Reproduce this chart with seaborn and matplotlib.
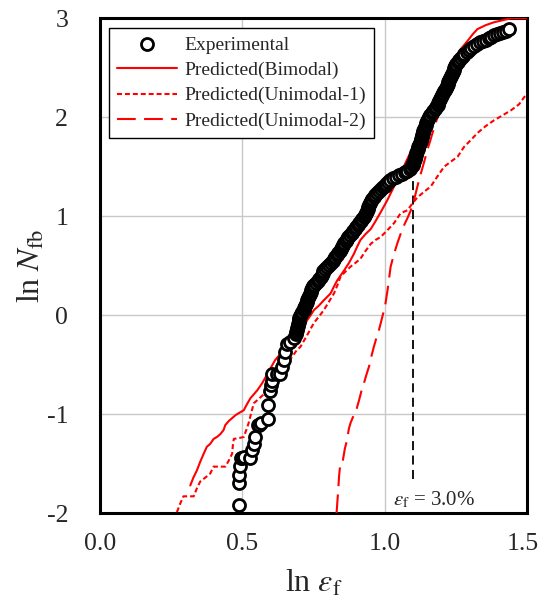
import numpy as np
import pandas as pd
import matplotlib
matplotlib.use('Agg')
import matplotlib.pyplot as plt
import matplotlib.transforms as mtransforms
import seaborn as sns

# Experimental points (ln eps_f, ln N_fb)
exp_x = [0.487, 0.487, 0.489, 0.493, 0.496, 0.500, 0.507, 0.528, 0.534, 0.540,
         0.546, 0.554, 0.558, 0.566, 0.589, 0.589, 0.596, 0.599, 0.605, 0.605,
         0.620, 0.634, 0.640, 0.645, 0.651, 0.657, 0.669, 0.680, 0.687,
         0.689, 0.691, 0.693, 0.695, 0.697, 0.698, 0.699, 0.700, 0.702, 0.705,
         0.710, 0.715, 0.718, 0.721, 0.724, 0.726, 0.728, 0.731, 0.735, 0.738,
         0.740, 0.742, 0.744, 0.747, 0.752, 0.759, 0.766, 0.771, 0.775, 0.779,
         0.782, 0.785, 0.789, 0.797, 0.806, 0.812, 0.818, 0.823, 0.827, 0.832,
         0.837, 0.842, 0.846, 0.850, 0.854, 0.858, 0.863, 0.867, 0.872, 0.878,
         0.884, 0.890, 0.896, 0.901, 0.906, 0.911, 0.916, 0.921, 0.927, 0.931,
         0.935, 0.938, 0.940, 0.942, 0.945, 0.948, 0.952, 0.957, 0.962, 0.967,
         0.973, 0.980, 0.987, 0.994, 1.000, 1.006, 1.012,
         1.020, 1.030, 1.040, 1.050, 1.060, 1.070, 1.080, 1.088, 1.094, 1.098,
         1.101, 1.103, 1.105, 1.107, 1.109, 1.111, 1.113, 1.116, 1.118, 1.121,
         1.123, 1.126, 1.128, 1.130, 1.132, 1.134, 1.136, 1.139, 1.141, 1.144,
         1.147, 1.150, 1.153, 1.157, 1.161, 1.166, 1.171, 1.176, 1.181, 1.186,
         1.189, 1.192, 1.195, 1.198, 1.202, 1.205, 1.209, 1.212, 1.215, 1.218,
         1.221, 1.224, 1.227, 1.230, 1.233, 1.236, 1.239, 1.242, 1.245, 1.248,
         1.252, 1.257, 1.262, 1.268, 1.274, 1.280, 1.289, 1.297, 1.305, 1.314,
         1.325, 1.335, 1.345, 1.355, 1.365, 1.375, 1.385, 1.395, 1.405, 1.415,
         1.425, 1.438]
exp_y = [-1.92, -1.70, -1.61, -1.52, -1.44, -1.44, -1.43, -1.44, -1.36, -1.30,
         -1.23, -1.11, -1.11, -1.09, -1.05, -0.91, -0.77, -0.71, -0.66, -0.59,
         -0.59, -0.59, -0.52, -0.45, -0.37, -0.29, -0.27, -0.23, -0.19,
         -0.17, -0.15, -0.13, -0.11, -0.09, -0.07, -0.05, -0.03, -0.01, 0.01,
         0.03, 0.05, 0.07, 0.09, 0.11, 0.13, 0.15, 0.17, 0.19, 0.21,
         0.23, 0.25, 0.27, 0.29, 0.31, 0.33, 0.35, 0.37, 0.39, 0.41,
         0.43, 0.45, 0.47, 0.49, 0.51, 0.53, 0.55, 0.57, 0.59, 0.61,
         0.63, 0.65, 0.67, 0.69, 0.71, 0.73, 0.75, 0.77, 0.79, 0.81,
         0.83, 0.85, 0.87, 0.89, 0.91, 0.93, 0.95, 0.97, 0.99, 1.01,
         1.03, 1.05, 1.07, 1.09, 1.11, 1.13, 1.15, 1.17, 1.19, 1.21,
         1.23, 1.25, 1.27, 1.29, 1.31, 1.33, 1.35,
         1.37, 1.385, 1.40, 1.415, 1.43, 1.445, 1.46, 1.48, 1.50, 1.52,
         1.54, 1.56, 1.58, 1.60, 1.62, 1.64, 1.66, 1.68, 1.70, 1.72,
         1.74, 1.76, 1.78, 1.80, 1.82, 1.84, 1.86, 1.88, 1.90, 1.92,
         1.94, 1.96, 1.98, 2.00, 2.02, 2.04, 2.06, 2.08, 2.10, 2.12,
         2.14, 2.16, 2.18, 2.20, 2.22, 2.24, 2.26, 2.28, 2.30, 2.32,
         2.34, 2.36, 2.38, 2.40, 2.42, 2.44, 2.46, 2.48, 2.50, 2.52,
         2.54, 2.56, 2.58, 2.60, 2.62, 2.64, 2.66, 2.68, 2.70, 2.72,
         2.74, 2.755, 2.77, 2.785, 2.80, 2.815, 2.83, 2.84, 2.85, 2.86,
         2.875, 2.89]

# Predicted (Bimodal)
bi_x = [0.317, 0.328, 0.340, 0.352, 0.364, 0.375, 0.387, 0.399, 0.411, 0.423,
        0.434, 0.440, 0.452, 0.464, 0.476, 0.487, 0.505, 0.516, 0.528, 0.540,
        0.552, 0.569, 0.587, 0.600, 0.616, 0.634, 0.650, 0.670, 0.690, 0.704,
        0.716, 0.728, 0.740, 0.751, 0.770, 0.786, 0.810, 0.822, 0.833, 0.845,
        0.857, 0.875, 0.892, 0.903, 0.915, 0.933, 0.951, 0.968, 0.986, 1.009,
        1.033, 1.055, 1.075, 1.100, 1.125, 1.150, 1.175, 1.200, 1.225, 1.244,
        1.265, 1.291, 1.310, 1.326, 1.355, 1.385, 1.415, 1.444, 1.500]
bi_y = [-1.72, -1.64, -1.57, -1.48, -1.40, -1.33, -1.30, -1.25, -1.23, -1.20,
        -1.16, -1.11, -1.07, -1.04, -1.01, -0.99, -0.96, -0.90, -0.84, -0.80,
        -0.76, -0.69, -0.60, -0.53, -0.45, -0.39, -0.33, -0.27, -0.22, -0.18,
        -0.11, -0.05, 0.00, 0.05, 0.10, 0.15, 0.22, 0.29, 0.35, 0.40,
        0.45, 0.53, 0.62, 0.69, 0.76, 0.82, 0.87, 0.95, 1.04, 1.16,
        1.30, 1.42, 1.55, 1.70, 1.88, 2.04, 2.18, 2.30, 2.45, 2.58,
        2.68, 2.77, 2.84, 2.89, 2.93, 2.96, 2.98, 3.00, 3.00]

# Predicted (Unimodal-1)
u1_x = [0.270, 0.282, 0.293, 0.310, 0.329, 0.340, 0.352, 0.370, 0.387, 0.399,
        0.420, 0.440, 0.452, 0.464, 0.467, 0.470, 0.490, 0.505, 0.515, 0.522,
        0.531, 0.540, 0.552, 0.575, 0.599, 0.610, 0.622, 0.637, 0.651, 0.670,
        0.692, 0.704, 0.728, 0.751, 0.770, 0.786, 0.805, 0.822, 0.835, 0.845,
        0.862, 0.880, 0.898, 0.915, 0.933, 0.951, 0.968, 0.986, 1.010, 1.033,
        1.056, 1.080, 1.098, 1.115, 1.140, 1.162, 1.185, 1.209, 1.232, 1.256,
        1.279, 1.303, 1.326, 1.355, 1.385, 1.415, 1.444, 1.472, 1.500]
u1_y = [-1.99, -1.90, -1.83, -1.83, -1.83, -1.75, -1.68, -1.64, -1.60, -1.53,
        -1.53, -1.53, -1.47, -1.40, -1.30, -1.25, -1.24, -1.23, -1.15, -1.09,
        -0.99, -0.89, -0.86, -0.80, -0.72, -0.67, -0.62, -0.57, -0.52, -0.44,
        -0.35, -0.32, -0.20, -0.08, -0.01, 0.05, 0.14, 0.22, 0.31, 0.39,
        0.44, 0.49, 0.53, 0.57, 0.65, 0.72, 0.76, 0.79, 0.86, 0.93,
        1.03, 1.06, 1.13, 1.19, 1.25, 1.30, 1.40, 1.50, 1.55, 1.60,
        1.70, 1.77, 1.84, 1.91, 1.97, 2.02, 2.07, 2.13, 2.24]

# Predicted (Unimodal-2)
u2_x = [0.831, 0.836, 0.840, 0.845, 0.853, 0.860, 0.868, 0.874, 0.880, 0.890,
        0.898, 0.904, 0.910, 0.918, 0.927, 0.936, 0.945, 0.953, 0.962, 0.971,
        0.980, 0.988, 0.995, 1.003, 1.010, 1.016, 1.021, 1.033, 1.045, 1.056,
        1.070, 1.080, 1.092, 1.103, 1.115, 1.127, 1.139, 1.150, 1.160, 1.168,
        1.177, 1.186, 1.200, 1.215, 1.230, 1.245, 1.262]
u2_y = [-2.00, -1.80, -1.62, -1.48, -1.47, -1.35, -1.26, -1.15, -1.09, -1.02,
        -0.99, -0.92, -0.86, -0.77, -0.69, -0.60, -0.52, -0.42, -0.32, -0.23,
        -0.15, -0.06, 0.02, 0.12, 0.25, 0.38, 0.49, 0.62, 0.73, 0.82,
        0.92, 0.98, 1.06, 1.16, 1.30, 1.43, 1.55, 1.67, 1.76, 1.84,
        1.92, 2.00, 2.12, 2.25, 2.38, 2.50, 2.60]

eps_limit = np.log(3.0)

sns.set_style('white')
plt.rcParams['font.family'] = ['Liberation Serif', 'DejaVu Serif']
plt.rcParams['mathtext.fontset'] = 'stix'
plt.rcParams['axes.unicode_minus'] = False

fig = plt.figure(figsize=(5.41, 6.08), dpi=100)
ax = fig.add_axes([0.185, 0.156, 0.789, 0.814])

ax.grid(True, color='#c8c8c8', linewidth=1.0)
ax.set_axisbelow(True)

sns.lineplot(x=bi_x, y=bi_y, sort=False, estimator=None, color='red', lw=1.5,
             label='Predicted(Bimodal)', ax=ax, zorder=3)
sns.lineplot(x=u1_x, y=u1_y, sort=False, estimator=None, color='red', lw=1.5,
             linestyle=(0, (2.4, 1.4)), label='Predicted(Unimodal-1)', ax=ax, zorder=3)
sns.lineplot(x=u2_x, y=u2_y, sort=False, estimator=None, color='red', lw=1.5,
             linestyle=(0, (9, 4)), label='Predicted(Unimodal-2)', ax=ax, zorder=3)

ax.plot([eps_limit, eps_limit], [-1.65, 1.5], color='black', lw=1.3,
        linestyle=(0, (5, 3)), zorder=2)

sns.scatterplot(x=exp_x, y=exp_y, marker='o', s=75, facecolor='white',
                edgecolor='black', linewidth=2.0, label='Experimental', ax=ax, zorder=4)

ax.text(1.03, -1.87, r'$\varepsilon_{\mathrm{f}}$ = 3.0%', fontsize=15,
        va='center', ha='left')

ax.set_xlim(0, 1.5)
ax.set_ylim(-2, 3)
ax.set_xticks([0.0, 0.5, 1.0, 1.5])
ax.set_xticklabels(['0.0', '0.5', '1.0', '1.5'])
ax.set_yticks([-2, -1, 0, 1, 2, 3])
ax.set_yticklabels(['-2', '-1', '0', '1', '2', '3'])
ax.tick_params(direction='in', length=5, width=1, labelsize=18.5)
ax.tick_params(axis='x', pad=14)
ax.tick_params(axis='y', pad=23)
for sp in ax.spines.values():
    sp.set_linewidth(2.2)
    sp.set_color('black')

# keep the last x tick label inside the canvas
last = ax.get_xticklabels()[-1]
last.set_transform(last.get_transform() +
                   mtransforms.ScaledTranslation(-4 / 100, 0, fig.dpi_scale_trans))

ax.set_xlabel(r'ln $\varepsilon_{\mathrm{f}}$', fontsize=23, labelpad=10)
ax.set_ylabel(r'ln $N_{\mathrm{fb}}$', fontsize=23, labelpad=0)

handles, labels = ax.get_legend_handles_labels()
order = [labels.index(l) for l in ['Experimental', 'Predicted(Bimodal)',
                                    'Predicted(Unimodal-1)', 'Predicted(Unimodal-2)']]
leg = ax.legend([handles[i] for i in order], [labels[i] for i in order],
                loc='upper left', bbox_to_anchor=(0.021, 0.98), borderaxespad=0,
                fontsize=14, frameon=True, fancybox=False, framealpha=1,
                edgecolor='black', handlelength=3.1, handletextpad=0.4,
                labelspacing=0.4, borderpad=0.4)
leg.get_frame().set_linewidth(1.0)

fig.savefig('out.png', dpi=100)
